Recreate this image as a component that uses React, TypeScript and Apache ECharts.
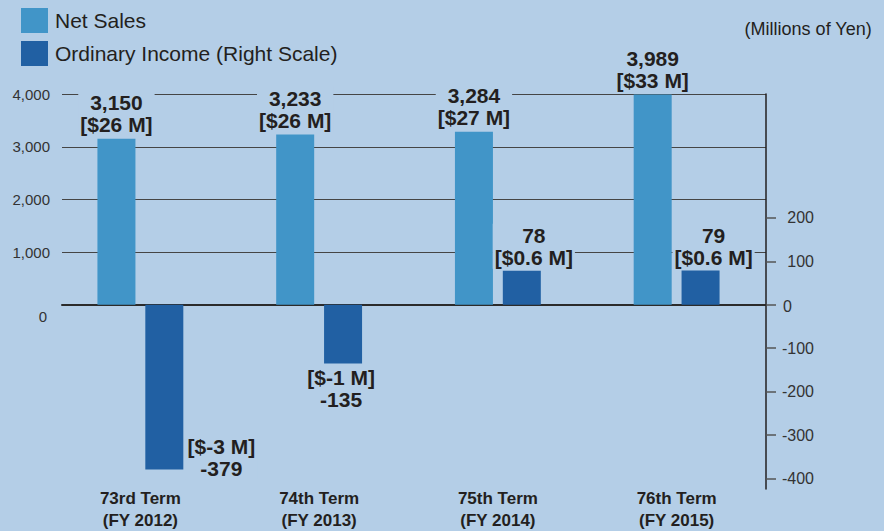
import React, { useEffect, useRef } from "react";
import * as echarts from "echarts";

// Fiscal terms on the category axis
const categories = [
  "73rd Term\n(FY 2012)",
  "74th Term\n(FY 2013)",
  "75th Term\n(FY 2014)",
  "76th Term\n(FY 2015)",
];

// Net Sales (millions of yen) and USD equivalents
const netSales = [3150, 3233, 3284, 3989];
const netSalesUsd = ["$26 M", "$26 M", "$27 M", "$33 M"];

// Ordinary Income (millions of yen, right scale) and USD equivalents
const ordinaryIncome = [-379, -135, 78, 79];
const ordinaryIncomeUsd = ["$-3 M", "$-1 M", "$0.6 M", "$0.6 M"];

// Tick values
const leftTicks = [0, 1000, 2000, 3000, 4000];
const leftGridLines = [1000, 2000, 3000, 4000];
const rightTicks = [-400, -300, -200, -100, 0, 100, 200];

const BG = "#b4cee7";
const TEXT = "#231f20";
const FONT = "'Liberation Sans', Arial, Helvetica, sans-serif";
const SALES_COLOR = "#4195c8";
const INCOME_COLOR = "#2160a3";

const fmt = (v: number) => v.toLocaleString("en-US");

// per-bar label placement for ordinary income
const incomeLabelPlacement = [
  { position: "bottom", offset: [57, -37], distance: 2 },
  { position: "bottom", offset: [-2, 0], distance: 2 },
  { position: "top", offset: [12, 0], distance: 2 },
  { position: "top", offset: [13, 0], distance: 2 },
];

export default function App() {
  const ref = useRef<HTMLDivElement>(null);

  useEffect(() => {
    if (!ref.current) return;
    const chart = echarts.init(ref.current, null, { renderer: "svg" });

    const barLabelBase = {
      show: true,
      fontFamily: FONT,
      fontSize: 21,
      fontWeight: "bold",
      lineHeight: 22,
      color: TEXT,
      backgroundColor: BG,
      padding: [1, 2, 0, 2],
    };

    const option: any = {
      animation: false,
      backgroundColor: BG,
      textStyle: { fontFamily: FONT },
      title: {
        text: "(Millions of Yen)",
        right: 12,
        top: 20,
        padding: 0,
        textStyle: {
          fontFamily: FONT,
          fontSize: 18,
          fontWeight: "normal",
          color: TEXT,
        },
      },
      legend: {
        orient: "vertical",
        left: 21,
        top: 8,
        padding: 0,
        itemWidth: 27,
        itemHeight: 25,
        itemGap: 8,
        icon: "rect",
        textStyle: {
          fontFamily: FONT,
          fontSize: 21,
          color: TEXT,
          padding: [0, 0, 0, 2],
        },
        data: ["Net Sales", "Ordinary Income (Right Scale)"],
      },
      grid: [
        // bars
        { left: 51, right: 118, top: 94, height: 396 },
        // gridlines and left scale
        { left: 62, right: 118, top: 94, height: 396 },
      ],
      xAxis: [
        {
          type: "category",
          gridIndex: 0,
          data: categories,
          position: "bottom",
          axisLine: { show: false, onZero: false },
          axisTick: { show: false },
          axisLabel: {
            fontFamily: FONT,
            fontSize: 17,
            fontWeight: "bold",
            lineHeight: 22,
            color: TEXT,
            margin: -2,
            interval: 0,
          },
        },
        {
          type: "category",
          gridIndex: 1,
          data: categories,
          axisLine: {
            show: true,
            onZero: true,
            lineStyle: { color: "#2b2b2b", width: 2 },
          },
          axisTick: { show: false },
          axisLabel: { show: false },
        },
      ],
      yAxis: [
        {
          type: "value",
          gridIndex: 0,
          min: -3500,
          max: 4000,
          show: false,
          splitLine: { show: false },
        },
        {
          type: "value",
          gridIndex: 0,
          position: "right",
          min: -424,
          max: 485,
          axisLine: { show: true, lineStyle: { color: TEXT, width: 1.5 } },
          axisTick: {
            show: true,
            length: 10,
            inside: false,
            customValues: rightTicks,
            lineStyle: { color: "#555", width: 1.5 },
          },
          splitLine: { show: false },
          axisLabel: {
            customValues: rightTicks,
            align: "right",
            margin: 48,
            fontFamily: FONT,
            fontSize: 16,
            color: "#333",
            formatter: (v: number) => (v === 0 ? "{z|0}" : String(v)),
            rich: {
              z: {
                fontFamily: FONT,
                fontSize: 16,
                color: "#333",
                padding: [4, 22, 0, 0],
              },
            },
          },
        },
        {
          type: "value",
          gridIndex: 1,
          position: "left",
          min: -3500,
          max: 4000,
          axisLine: { show: false },
          axisTick: { show: false, customValues: leftGridLines },
          splitLine: {
            show: true,
            lineStyle: { color: "#454545", width: 1 },
          },
          axisLabel: {
            customValues: leftTicks,
            margin: 12,
            fontFamily: FONT,
            fontSize: 15,
            color: "#333",
            formatter: (v: number) => (v === 0 ? "{z|0}" : fmt(v)),
            rich: {
              z: {
                fontFamily: FONT,
                fontSize: 15,
                color: "#333",
                padding: [22, 3, 0, 0],
              },
            },
          },
        },
      ],
      series: [
        {
          name: "Net Sales",
          type: "bar",
          xAxisIndex: 0,
          yAxisIndex: 0,
          barWidth: 38,
          barGap: "26%",
          z: 3,
          itemStyle: { color: SALES_COLOR },
          data: netSales,
          label: {
            ...barLabelBase,
            position: "top",
            distance: 3,
            formatter: (p: any) =>
              `${fmt(p.value)}\n[${netSalesUsd[p.dataIndex]}]`,
          },
        },
        {
          name: "Ordinary Income (Right Scale)",
          type: "bar",
          xAxisIndex: 0,
          yAxisIndex: 1,
          barWidth: 38,
          barGap: "26%",
          z: 3,
          itemStyle: { color: INCOME_COLOR },
          data: ordinaryIncome.map((v, i) => ({
            value: v,
            label: incomeLabelPlacement[i],
          })),
          label: {
            ...barLabelBase,
            formatter: (p: any) => {
              const usd = ordinaryIncomeUsd[p.dataIndex];
              return p.value < 0
                ? `[${usd}]\n${fmt(p.value)}`
                : `${fmt(p.value)}\n[${usd}]`;
            },
          },
        },
      ],
    };

    chart.setOption(option);
    return () => chart.dispose();
  }, []);

  return (
    <div
      ref={ref}
      style={{
        position: "fixed",
        left: 0,
        top: 0,
        width: 884,
        height: 531,
      }}
    />
  );
}
